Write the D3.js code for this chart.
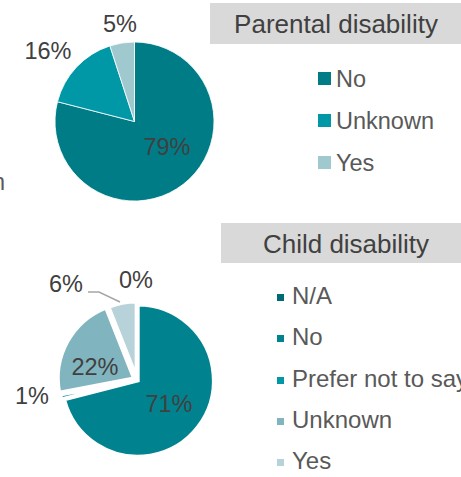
<!DOCTYPE html>
<html><head><meta charset="utf-8">
<script src="https://cdn.jsdelivr.net/npm/d3@7"></script>
<style>
html,body{margin:0;padding:0;background:#fff;overflow:hidden;}
text{font-family:"Liberation Sans",Arial,sans-serif;}
</style></head>
<body>
<svg id="c" width="461" height="477"></svg>
<script>
// Parental disability
const parentCategories = ["No", "Unknown", "Yes"];
const parentValues = [79, 16, 5];
const parentColors = ["#007C87", "#0097A7", "#A0C8CF"];
// Child disability
const childCategories = ["N/A", "No", "Prefer not to say", "Unknown", "Yes"];
const childValues = [0, 71, 1, 22, 6];
const childColors = ["#006A74", "#00838F", "#0097A7", "#80B4BE", "#B7D3D9"];
const parentTitle = "Parental disability";
const childTitle = "Child disability";

const svg = d3.select("#c");
const labelColor = "#404040";
const legendColor = "#595959";

// clipped fragment at left edge (as in the reference)
svg.append("text").attr("x", 5).attr("y", 190).attr("text-anchor", "end")
  .attr("font-size", 23).attr("fill", legendColor).text("n");

function drawPie(cfg) {
  const pie = d3.pie().sort(null).value(d => d)(cfg.values);
  const arc = d3.arc().innerRadius(0).outerRadius(cfg.r);
  const g = svg.append("g").attr("transform", `translate(${cfg.cx},${cfg.cy})`);
  g.selectAll("path").data(pie).join("path")
    .attr("d", arc)
    .attr("fill", (d, i) => cfg.colors[i])
    .attr("stroke", "#fff")
    .attr("stroke-width", cfg.stroke)
    .attr("stroke-linejoin", "miter")
    .attr("transform", (d, i) => {
      const e = cfg.explode[i] || 0;
      const a = (d.startAngle + d.endAngle) / 2;
      return `translate(${e * Math.sin(a)},${-e * Math.cos(a)})`;
    });
  pie.forEach((d, i) => {
    const p = cfg.labelPos[i];
    svg.append("text").attr("x", p[0]).attr("y", p[1])
      .attr("text-anchor", "middle").attr("font-size", 23.5)
      .attr("fill", labelColor).text(cfg.values[i] + "%");
  });
}

drawPie({
  cx: 134.5, cy: 121.5, r: 79.5, values: parentValues, colors: parentColors,
  stroke: 0.8, explode: [0, 0, 0],
  labelPos: [[167, 155], [48, 59], [120, 32]]
});

drawPie({
  cx: 137, cy: 380, r: 76, values: childValues, colors: childColors,
  stroke: 3.8, explode: [0, 1, 2, 3.5, 2.5],
  labelPos: [[136, 288], [169, 412], [32, 404], [95, 375], [66, 292]]
});

// leader line for 6%
svg.append("polyline")
  .attr("points", "88,292 99,292 120,302")
  .attr("fill", "none").attr("stroke", "#A6A6A6").attr("stroke-width", 1.5);

// Legend: Parental
svg.append("rect").attr("x", 210).attr("y", 3).attr("width", 251).attr("height", 41).attr("fill", "#D9D9D9");
svg.append("text").attr("x", 336).attr("y", 33).attr("text-anchor", "middle")
  .attr("font-size", 26).attr("fill", labelColor).text(parentTitle);
const pBase = [87, 129, 171];
parentCategories.forEach((c, i) => {
  svg.append("rect").attr("x", 318).attr("y", pBase[i] - 15).attr("width", 13).attr("height", 13).attr("fill", parentColors[i]);
  svg.append("text").attr("x", 336).attr("y", pBase[i]).attr("font-size", 23.5).attr("fill", legendColor).text(c);
});

// Legend: Child
svg.append("rect").attr("x", 221).attr("y", 223).attr("width", 240).attr("height", 40).attr("fill", "#D9D9D9");
svg.append("text").attr("x", 346).attr("y", 253).attr("text-anchor", "middle")
  .attr("font-size", 26).attr("fill", labelColor).text(childTitle);
const cBase = [304, 345, 387, 428, 469];
childCategories.forEach((c, i) => {
  svg.append("rect").attr("x", 277).attr("y", cBase[i] - 10).attr("width", 7).attr("height", 7).attr("fill", childColors[i]);
  svg.append("text").attr("x", 292).attr("y", cBase[i]).attr("font-size", 24).attr("fill", legendColor).text(c);
});
</script>
</body></html>
